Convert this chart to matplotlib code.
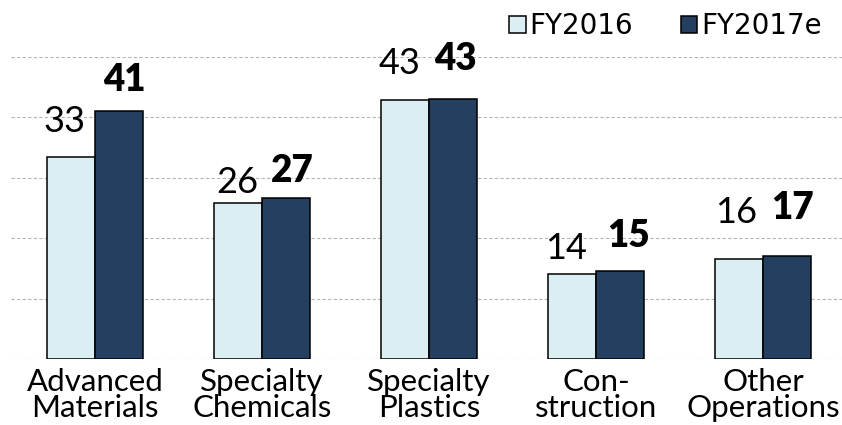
import matplotlib.pyplot as plt
import numpy as np

categories = ["Advanced\nMaterials", "Specialty\nChemicals", "Specialty\nPlastics",
              "Con-\nstruction", "Other\nOperations"]
fy2016 = [33.4, 25.9, 42.8, 14.0, 16.5]
fy2017e = [41.0, 26.6, 43.0, 14.6, 17.1]
labels_2016 = ["33", "26", "43", "14", "16"]
labels_2017 = ["41", "27", "43", "15", "17"]

# label nudges in pixels (dx, gap above bar top), the source placed them by hand
nudge_2016 = [(-7, 25), (-1, 10), (-5, 26), (-6, 15), (-3, 36)]
nudge_2017 = [(5, 20), (6, 16), (2, 29), (9, 24), (6, 37)]

light = "#DBEEF3"
dark = "#243F60"

fig = plt.figure(figsize=(8.42, 4.25), dpi=100)
ax = fig.add_axes([0.013, 1 - 359 / 425, 1 - 0.013, (359 - 57) / 425])

x = np.arange(len(categories))
w = 0.287
b1 = ax.bar(x - w, fy2016, w, align="edge", color=light, edgecolor="black", linewidth=1.1,
            label="FY2016", zorder=3)
b2 = ax.bar(x, fy2017e, w, align="edge", color=dark, edgecolor="black", linewidth=1.1,
            label="FY2017e", zorder=3)

for i in range(len(x)):
    ax.annotate(labels_2016[i], (x[i] - w / 2, fy2016[i]), xytext=nudge_2016[i],
                textcoords="offset pixels", ha="center", va="baseline",
                fontsize=26, family="Lato", annotation_clip=False)
    ax.annotate(labels_2017[i], (x[i] + w / 2, fy2017e[i]), xytext=nudge_2017[i],
                textcoords="offset pixels", ha="center", va="baseline",
                fontsize=26.5, family="Lato", fontweight="heavy", annotation_clip=False)

ax.set_xlim(-0.503, 4.473)
ax.set_ylim(0, 50)
ax.set_yticks(np.arange(0, 51, 10))
ax.yaxis.grid(True, color="#b5b5b5", linestyle=(0, (3, 2)), linewidth=0.8, zorder=0)
ax.tick_params(left=False, labelleft=False, bottom=False)
ax.set_xticks(x)
ax.set_xticklabels(categories, fontsize=22.5, family="Lato", linespacing=0.9)
ax.tick_params(axis="x", pad=3)
for s in ax.spines.values():
    s.set_visible(False)

fig.legend(handles=[b1, b2], loc="upper right", bbox_to_anchor=(1.006, 1.03), ncol=2,
           frameon=False, prop={"family": "DejaVu Sans", "size": 20},
           handlelength=0.6, handleheight=0.6, handletextpad=0.15, columnspacing=1.7)

fig.savefig("out.png", dpi=100)
